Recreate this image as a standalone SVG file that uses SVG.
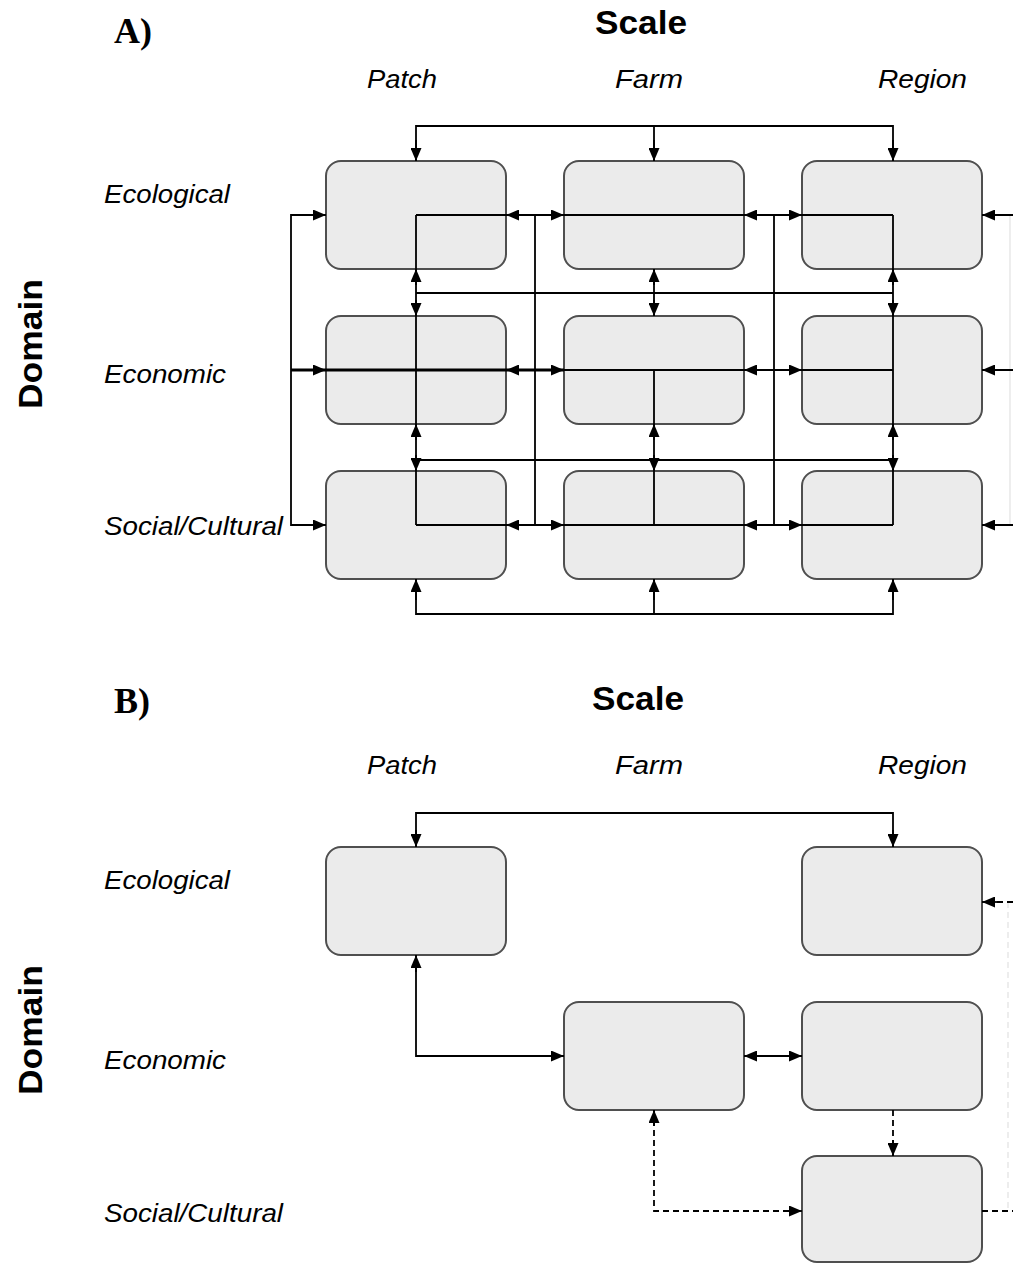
<svg xmlns="http://www.w3.org/2000/svg" width="1013" height="1263" viewBox="0 0 1013 1263">
<style>
.box{fill:#ebebeb;stroke:#4f4f4f;stroke-width:2}
.ln{fill:none;stroke:#000;stroke-width:1.8}
.thick{fill:none;stroke:#000;stroke-width:2.8}
.dash{fill:none;stroke:#000;stroke-width:1.8;stroke-dasharray:6,4}
.faint{fill:none;stroke:#e2e2e2;stroke-width:1.2}
.fdash{fill:none;stroke:#e2e2e2;stroke-width:1.2;stroke-dasharray:6,4}
.ar{fill:none;stroke:#000;stroke-width:1.8;marker-end:url(#ah)}
.lbl{font-family:"Liberation Sans",Arial,sans-serif;font-style:italic;font-size:26px;fill:#000}
.hd{font-family:"Liberation Sans",Arial,sans-serif;font-weight:bold;font-size:34px;fill:#000}
.pn{font-family:"Liberation Serif","Times New Roman",serif;font-weight:bold;font-size:36px;fill:#000}
</style>
<defs>
<marker id="ah" viewBox="0 0 13 11" refX="13" refY="5.5" markerWidth="13" markerHeight="11" markerUnits="userSpaceOnUse" orient="auto">
<path d="M0,0 L13,5.5 L0,11 z" fill="#000"/>
</marker>
</defs>

<!-- Panel A labels -->
<text class="pn" x="114" y="43">A)</text>
<text class="hd" x="595" y="34" textLength="92" lengthAdjust="spacingAndGlyphs">Scale</text>
<text class="lbl" x="367" y="88" textLength="70" lengthAdjust="spacingAndGlyphs">Patch</text>
<text class="lbl" x="615" y="88" textLength="68" lengthAdjust="spacingAndGlyphs">Farm</text>
<text class="lbl" x="878" y="88" textLength="89" lengthAdjust="spacingAndGlyphs">Region</text>
<text class="lbl" x="104" y="203" textLength="126" lengthAdjust="spacingAndGlyphs">Ecological</text>
<text class="lbl" x="104" y="383" textLength="122" lengthAdjust="spacingAndGlyphs">Economic</text>
<text class="lbl" x="104" y="535" textLength="179" lengthAdjust="spacingAndGlyphs">Social/Cultural</text>
<text class="hd" transform="translate(42,344) rotate(-90)" x="0" y="0" text-anchor="middle" textLength="130" lengthAdjust="spacingAndGlyphs">Domain</text>

<!-- Panel A nodes -->
<g id="A-eco-patch"><rect class="box" x="326" y="161" width="180" height="108" rx="15"/></g>
<g id="A-eco-farm"><rect class="box" x="564" y="161" width="180" height="108" rx="15"/></g>
<g id="A-eco-region"><rect class="box" x="802" y="161" width="180" height="108" rx="15"/></g>
<g id="A-econ-patch"><rect class="box" x="326" y="316" width="180" height="108" rx="15"/></g>
<g id="A-econ-farm"><rect class="box" x="564" y="316" width="180" height="108" rx="15"/></g>
<g id="A-econ-region"><rect class="box" x="802" y="316" width="180" height="108" rx="15"/></g>
<g id="A-soc-patch"><rect class="box" x="326" y="471" width="180" height="108" rx="15"/></g>
<g id="A-soc-farm"><rect class="box" x="564" y="471" width="180" height="108" rx="15"/></g>
<g id="A-soc-region"><rect class="box" x="802" y="471" width="180" height="108" rx="15"/></g>

<!-- Panel A connectors -->
<g id="A-connectors">
<path class="faint" d="M1010,215 V525"/>
<path class="ln" d="M416,161 V126 H893 V161 M654,126 V161"/>
<path class="ln" d="M416,579 V614 H893 V579 M654,614 V579"/>
<path class="ln" d="M326,215 H291 V525 H326"/>
<path class="thick" d="M291,370 H564"/>
<path class="ln" d="M564,370 H893"/>
<path class="ln" d="M416,215 H893 M416,525 H893"/>
<path class="ln" d="M416,215 V525 M893,215 V525 M654,269 V316 M654,370 V525"/>
<path class="ln" d="M535,215 V525 M774,215 V525"/>
<path class="ln" d="M416,293 H893 M416,460 H893"/>
<path class="ln" d="M1013,215 H982 M1013,370 H982 M1013,525 H982"/>
<!-- arrowheads -->
<path class="ar" d="M416,140 V161"/><path class="ar" d="M654,140 V161"/><path class="ar" d="M893,140 V161"/>
<path class="ar" d="M416,600 V579"/><path class="ar" d="M654,600 V579"/><path class="ar" d="M893,600 V579"/>
<path class="ar" d="M305,215 H326"/><path class="ar" d="M305,370 H326"/><path class="ar" d="M305,525 H326"/>
<path class="ar" d="M1000,215 H982"/><path class="ar" d="M1000,370 H982"/><path class="ar" d="M1000,525 H982"/>
<path class="ar" d="M525,215 H506"/><path class="ar" d="M545,215 H564"/><path class="ar" d="M764,215 H744"/><path class="ar" d="M784,215 H802"/>
<path class="ar" d="M525,370 H506"/><path class="ar" d="M545,370 H564"/><path class="ar" d="M764,370 H744"/><path class="ar" d="M784,370 H802"/>
<path class="ar" d="M525,525 H506"/><path class="ar" d="M545,525 H564"/><path class="ar" d="M764,525 H744"/><path class="ar" d="M784,525 H802"/>
<path class="ar" d="M416,285 V269"/><path class="ar" d="M416,300 V316"/><path class="ar" d="M416,440 V424"/><path class="ar" d="M416,455 V471"/>
<path class="ar" d="M654,285 V269"/><path class="ar" d="M654,300 V316"/><path class="ar" d="M654,440 V424"/><path class="ar" d="M654,455 V471"/>
<path class="ar" d="M893,285 V269"/><path class="ar" d="M893,300 V316"/><path class="ar" d="M893,440 V424"/><path class="ar" d="M893,455 V471"/>
</g>

<!-- Panel B labels -->
<text class="pn" x="114" y="713">B)</text>
<text class="hd" x="592" y="710" textLength="92" lengthAdjust="spacingAndGlyphs">Scale</text>
<text class="lbl" x="367" y="774" textLength="70" lengthAdjust="spacingAndGlyphs">Patch</text>
<text class="lbl" x="615" y="774" textLength="68" lengthAdjust="spacingAndGlyphs">Farm</text>
<text class="lbl" x="878" y="774" textLength="89" lengthAdjust="spacingAndGlyphs">Region</text>
<text class="lbl" x="104" y="889" textLength="126" lengthAdjust="spacingAndGlyphs">Ecological</text>
<text class="lbl" x="104" y="1069" textLength="122" lengthAdjust="spacingAndGlyphs">Economic</text>
<text class="lbl" x="104" y="1222" textLength="179" lengthAdjust="spacingAndGlyphs">Social/Cultural</text>
<text class="hd" transform="translate(42,1030) rotate(-90)" x="0" y="0" text-anchor="middle" textLength="130" lengthAdjust="spacingAndGlyphs">Domain</text>

<!-- Panel B nodes -->
<g id="B-eco-patch"><rect class="box" x="326" y="847" width="180" height="108" rx="15"/></g>
<g id="B-eco-region"><rect class="box" x="802" y="847" width="180" height="108" rx="15"/></g>
<g id="B-econ-farm"><rect class="box" x="564" y="1002" width="180" height="108" rx="15"/></g>
<g id="B-econ-region"><rect class="box" x="802" y="1002" width="180" height="108" rx="15"/></g>
<g id="B-soc-region"><rect class="box" x="802" y="1156" width="180" height="106" rx="15"/></g>

<!-- Panel B connectors -->
<g id="B-connectors">
<path class="fdash" d="M1008,902 V1211"/>
<path class="ln" d="M416,847 V813 H893 V847"/>
<path class="ln" d="M416,955 V1056 H564"/>
<path class="ln" d="M744,1056 H802"/>
<path class="dash" d="M893,1110 V1156"/>
<path class="dash" d="M654,1110 V1211 H802"/>
<path class="dash" d="M982,1211 H1013"/>
<path class="dash" d="M1013,902 H982"/>
<path class="ar" d="M416,830 V847"/><path class="ar" d="M893,830 V847"/>
<path class="ar" d="M416,972 V955"/><path class="ar" d="M545,1056 H564"/>
<path class="ar" d="M764,1056 H744"/><path class="ar" d="M784,1056 H802"/>
<path class="ar" d="M893,1140 V1156"/>
<path class="ar" d="M654,1126 V1110"/><path class="ar" d="M786,1211 H802"/>
<path class="ar" d="M1000,902 H982"/>
</g>
</svg>
